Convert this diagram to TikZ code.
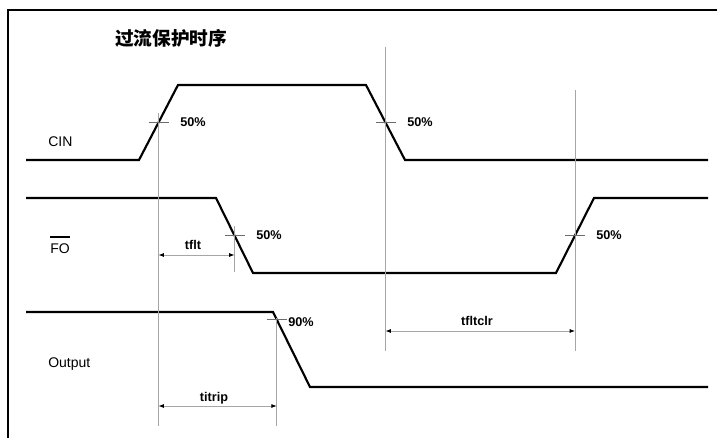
\documentclass[tikz,border=0pt]{standalone}
\usepackage{fontspec}
\setmainfont{Liberation Sans}
\newfontfamily\cjkfont{Noto Sans CJK SC}
\usetikzlibrary{arrows.meta,calc}

\begin{document}
\begin{tikzpicture}[x=0.75pt,y=-0.75pt,
    signal/.style={line width=1.6pt,line join=miter},
    guide/.style={gray!70,line width=0.6pt},
    crossmark/.style={gray!85!black,line width=0.5pt},
    dimarrow/.style={gray!70,line width=0.6pt,
      {Latex[black,length=4pt,width=3pt]}-{Latex[black,length=4pt,width=3pt]}},
    pct/.style={font=\bfseries\fontsize{9.5}{11}\selectfont,inner sep=0,anchor=base west},
    dimtext/.style={font=\bfseries\fontsize{9.5}{11}\selectfont,inner sep=0,anchor=base},
    lbl/.style={font=\fontsize{10.5}{12}\selectfont,inner sep=0,anchor=base west}]
  \useasboundingbox (0,0) rectangle (717,438);
  \fill[white] (0,0) rectangle (717,438);
  \draw[line width=1.6pt] (8,438) -- (8,10) -- (717,10);

  \node[lbl,font=\cjkfont\bfseries\fontsize{14}{16}\selectfont] (title) at (115,46) {过流保护时序};

  % waveforms
  \coordinate (cin0) at (26,160);
  \coordinate (cin1) at (139,160);
  \coordinate (cin2) at (178,85);
  \coordinate (cin3) at (366,85);
  \coordinate (cin4) at (405,160);
  \coordinate (cin5) at (708,160);
  \draw[signal] (cin0) -- (cin1) -- (cin2) -- (cin3) -- (cin4) -- (cin5);

  \coordinate (fo0) at (26,198);
  \coordinate (fo1) at (216,198);
  \coordinate (fo2) at (253,273);
  \coordinate (fo3) at (556,273);
  \coordinate (fo4) at (594,198);
  \coordinate (fo5) at (708,198);
  \draw[signal] (fo0) -- (fo1) -- (fo2) -- (fo3) -- (fo4) -- (fo5);

  \coordinate (out0) at (26,312);
  \coordinate (out1) at (273,312);
  \coordinate (out2) at (310,387);
  \coordinate (out3) at (708,387);
  \draw[signal] (out0) -- (out1) -- (out2) -- (out3);

  % crossing points
  \coordinate (cinup) at ($(cin1)!0.5!(cin2)$);
  \coordinate (cindn) at ($(cin3)!0.5!(cin4)$);
  \coordinate (fodn) at ($(fo1)!0.5!(fo2)$);
  \coordinate (foup) at ($(fo3)!0.5!(fo4)$);
  \coordinate (out90) at ($(out1)!0.1!(out2)$);

  \draw[guide] (cinup) ++(0,-9) -- ++(0,312);
  \draw[guide] (cindn) ++(0,-75) -- ++(0,303);
  \draw[guide] (fodn) ++(0,-9) -- ++(0,46);
  \draw[guide] (foup) ++(0,-145) -- ++(0,260);
  \draw[guide] (out90) ++(0,-2) -- ++(0,108);

  \foreach \p in {cinup,cindn,fodn,foup,out90}
    \draw[crossmark] (\p) ++(-10,0) -- ++(20,0);

  \node[pct] (p1) at (180,127) {50\%};
  \node[pct] (p2) at (407,127) {50\%};
  \node[pct] (p3) at (256,240) {50\%};
  \node[pct] (p4) at (596,240) {50\%};
  \node[pct] (p5) at (288,326) {90\%};

  % signal names
  \node[lbl] (cin) at (48,147) {CIN};
  \node[lbl] (fo) at (50,253) {FO};
  \draw[line width=1.4pt] ([yshift=4.5pt]fo.north west) -- ([yshift=4.5pt]fo.north east);
  \node[lbl] (out) at (48,367) {Output};

  % timing
  \coordinate (tfltrow) at (0,255);
  \coordinate (titriprow) at (0,406);
  \coordinate (tfltclrrow) at (0,331);
  \draw[dimarrow] (cinup |- tfltrow) -- (fodn |- tfltrow);
  \draw[dimarrow] (cinup |- titriprow) -- (out90 |- titriprow);
  \draw[dimarrow] (cindn |- tfltclrrow) -- (foup |- tfltclrrow);
  \node[dimtext] (tflt) at (193,249) {tflt};
  \node[dimtext] (titrip) at (214,401) {titrip};
  \node[dimtext] (tfltclr) at (477,325) {tfltclr};
\end{tikzpicture}
\end{document}
